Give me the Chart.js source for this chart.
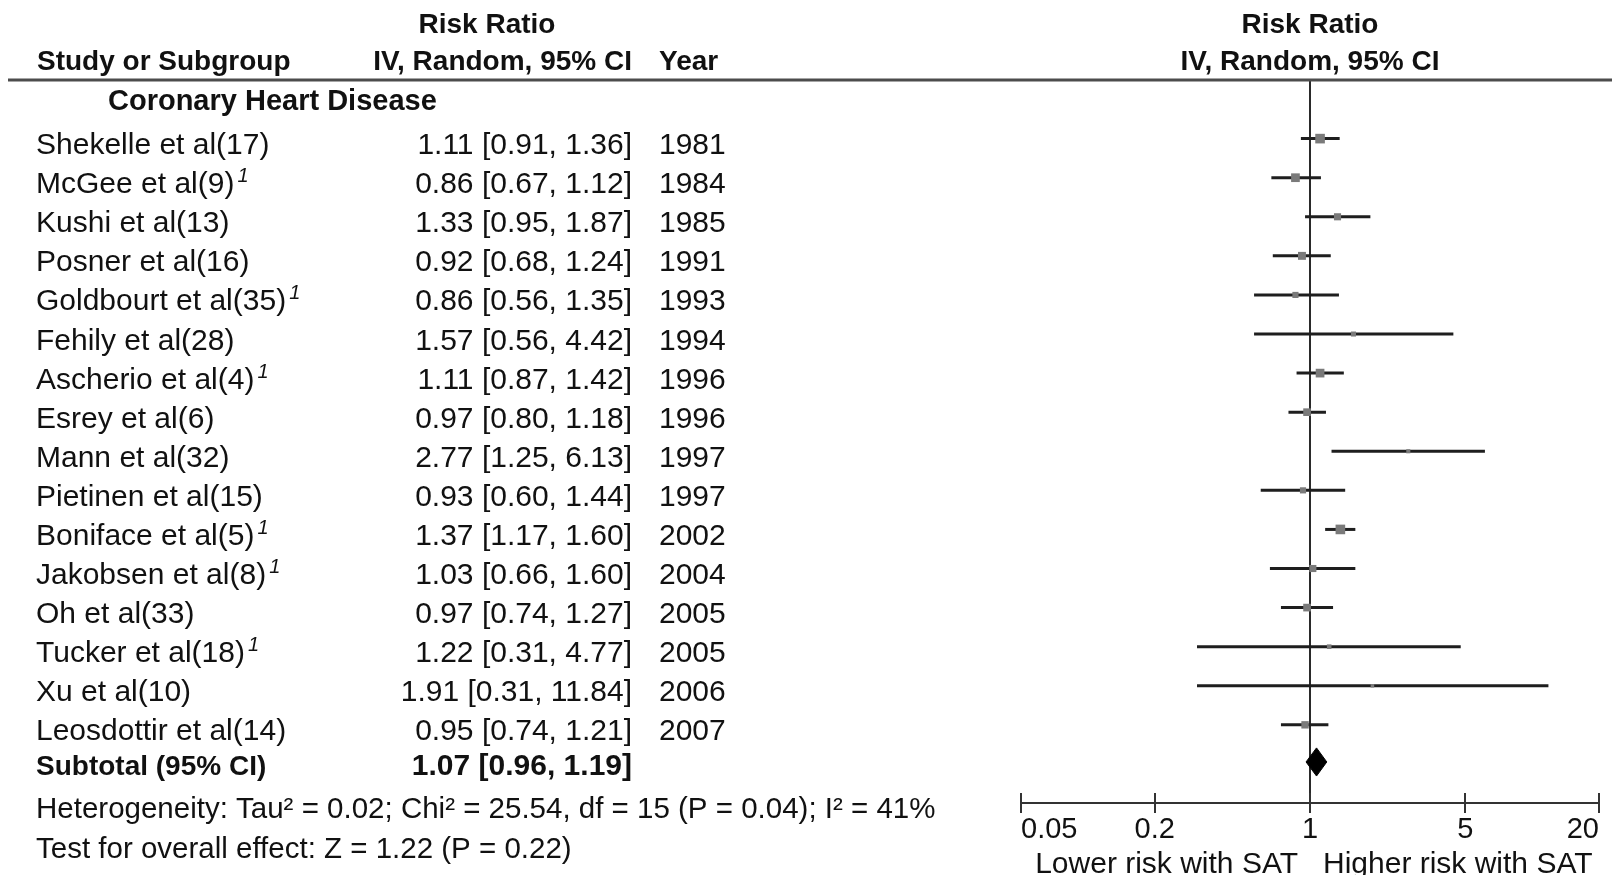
<!DOCTYPE html>
<html>
<head>
<meta charset="utf-8">
<title>Saturated fat and coronary heart disease – forest plot</title>
<script src="https://cdn.jsdelivr.net/npm/chart.js@4.4.1/dist/chart.umd.min.js"></script>
<style>
  html, body { margin: 0; padding: 0; background: #ffffff; }
  canvas { display: block; }
</style>
</head>
<body>
<canvas id="forest" width="1612" height="875"></canvas>
<script>
// ---- Study data -------------------------------------------------------
const studies = [
  'Shekelle et al(17)', 'McGee et al(9)', 'Kushi et al(13)', 'Posner et al(16)',
  'Goldbourt et al(35)', 'Fehily et al(28)', 'Ascherio et al(4)', 'Esrey et al(6)',
  'Mann et al(32)', 'Pietinen et al(15)', 'Boniface et al(5)', 'Jakobsen et al(8)',
  'Oh et al(33)', 'Tucker et al(18)', 'Xu et al(10)', 'Leosdottir et al(14)'
];
const footnote = [false, true, false, false, true, false, true, false,
                  false, false, true, true, false, true, false, false];
const riskRatio = [1.11, 0.86, 1.33, 0.92, 0.86, 1.57, 1.11, 0.97, 2.77, 0.93, 1.37, 1.03, 0.97, 1.22, 1.91, 0.95];
const ciLower   = [0.91, 0.67, 0.95, 0.68, 0.56, 0.56, 0.87, 0.80, 1.25, 0.60, 1.17, 0.66, 0.74, 0.31, 0.31, 0.74];
const ciUpper   = [1.36, 1.12, 1.87, 1.24, 1.35, 4.42, 1.42, 1.18, 6.13, 1.44, 1.60, 1.60, 1.27, 4.77, 11.84, 1.21];
const years     = [1981, 1984, 1985, 1991, 1993, 1994, 1996, 1996, 1997, 1997, 2002, 2004, 2005, 2005, 2006, 2007];
// approximate study weights (%), which set the box areas
const weights   = [11, 9, 6, 7.5, 4.5, 3, 9, 7, 2, 4.5, 11, 6, 7, 2.5, 1.5, 6.5];

// pooled random-effects estimate
const pooledRR = 1.07;
const pooledLower = 0.96;
const pooledUpper = 1.19;

const tickValues = [0.05, 0.2, 1, 5, 20];
const tickLabels = ['0.05', '0.2', '1', '5', '20'];

const subgroupTitle = 'Coronary Heart Disease';
const heterogeneityText = 'Heterogeneity: Tau\u00B2 = 0.02; Chi\u00B2 = 25.54, df = 15 (P = 0.04); I\u00B2 = 41%';
const overallEffectText = 'Test for overall effect: Z = 1.22 (P = 0.22)';
const favoursLeft = 'Lower risk with SAT';
const favoursRight = 'Higher risk with SAT';

// ---- Layout constants -------------------------------------------------
const Y_MIN = -0.5, Y_MAX = 18;        // row units, study k sits on row k
const SUBTOTAL_ROW = 16.95;
const DIAMOND_HALF = 0.36;             // half height of the pooled diamond, in rows
const FONT = '"Liberation Sans", Arial, Helvetica, sans-serif';
const INK = '#111111';
const LINE_INK = '#1e1e1e';

const fmt = v => v.toFixed(2);

// ---- Datasets ---------------------------------------------------------
const datasets = [];

// study boxes (area proportional to weight)
datasets.push({
  type: 'scatter',
  data: riskRatio.map((v, i) => ({ x: v, y: i + 1 })),
  pointStyle: 'rect',
  pointRadius: weights.map(w => 2.05 * Math.sqrt(w)),
  pointBackgroundColor: '#7a7a7a',
  pointBorderColor: '#7a7a7a',
  pointBorderWidth: 0,
  showLine: false,
  order: 0
});

// pooled diamond
datasets.push({
  type: 'line',
  data: [
    { x: pooledLower, y: SUBTOTAL_ROW },
    { x: pooledRR, y: SUBTOTAL_ROW - DIAMOND_HALF },
    { x: pooledUpper, y: SUBTOTAL_ROW },
    { x: pooledRR, y: SUBTOTAL_ROW + DIAMOND_HALF },
    { x: pooledLower, y: SUBTOTAL_ROW }
  ],
  borderColor: '#000000',
  backgroundColor: '#000000',
  borderWidth: 1,
  fill: 'shape',
  tension: 0,
  pointRadius: 0,
  order: 1
});

// confidence interval whiskers
studies.forEach((s, i) => {
  datasets.push({
    type: 'line',
    data: [{ x: ciLower[i], y: i + 1 }, { x: ciUpper[i], y: i + 1 }],
    borderColor: LINE_INK,
    borderWidth: 3,
    pointRadius: 0,
    tension: 0,
    fill: false,
    order: 2
  });
});

// line of no effect
datasets.push({
  type: 'line',
  data: [{ x: 1, y: Y_MIN }, { x: 1, y: Y_MAX }],
  borderColor: '#2a2a2a',
  borderWidth: 2,
  pointRadius: 0,
  fill: false,
  order: 3
});

// ---- Table text and axis furniture ------------------------------------
const forestTable = {
  id: 'forestTable',
  afterDraw(chart) {
    const ctx = chart.ctx;
    const xs = chart.scales.x;
    const ys = chart.scales.y;
    const x1 = xs.getPixelForValue(1);
    const axisY = chart.chartArea.bottom;
    const top = chart.chartArea.top;

    ctx.save();

    // rule under the column headings
    ctx.strokeStyle = '#4d4d4d';
    ctx.lineWidth = 3;
    ctx.beginPath();
    ctx.moveTo(8, top);
    ctx.lineTo(chart.width, top);
    ctx.stroke();

    // upper halves of the axis tick marks
    ctx.strokeStyle = '#333333';
    ctx.lineWidth = 2;
    xs.ticks.forEach(t => {
      const px = Math.round(xs.getPixelForValue(t.value));
      ctx.beginPath();
      ctx.moveTo(px, axisY - 10);
      ctx.lineTo(px, axisY);
      ctx.stroke();
    });

    ctx.fillStyle = INK;
    ctx.textBaseline = 'alphabetic';

    // column headings
    ctx.font = 'bold 28px ' + FONT;
    ctx.textAlign = 'center';
    ctx.fillText('Risk Ratio', 487, 33);
    ctx.fillText('Risk Ratio', x1, 33);
    ctx.fillText('IV, Random, 95% CI', x1, 70);
    ctx.textAlign = 'left';
    ctx.fillText('Study or Subgroup', 37, 70);
    ctx.fillText('Year', 659, 70);
    ctx.textAlign = 'right';
    ctx.fillText('IV, Random, 95% CI', 632, 70);

    // subgroup title
    ctx.textAlign = 'left';
    ctx.font = 'bold 29px ' + FONT;
    ctx.fillText(subgroupTitle, 108, 110);

    // study rows
    studies.forEach((name, i) => {
      const base = ys.getPixelForValue(i + 1) + 15.5;
      ctx.font = '30px ' + FONT;
      ctx.textAlign = 'left';
      ctx.fillText(name, 36, base);
      if (footnote[i]) {
        const w = ctx.measureText(name).width;
        ctx.font = 'italic 20px ' + FONT;
        ctx.fillText('1', 36 + w + 3, base - 11);
        ctx.font = '30px ' + FONT;
      }
      ctx.textAlign = 'right';
      ctx.fillText(`${fmt(riskRatio[i])} [${fmt(ciLower[i])}, ${fmt(ciUpper[i])}]`, 632, base);
      ctx.textAlign = 'left';
      ctx.fillText(String(years[i]), 659, base);
    });

    // subtotal row
    const subBase = ys.getPixelForValue(SUBTOTAL_ROW) + 13;
    ctx.font = 'bold 28px ' + FONT;
    ctx.textAlign = 'left';
    ctx.fillText('Subtotal (95% CI)', 36, subBase);
    ctx.font = 'bold 30px ' + FONT;
    ctx.textAlign = 'right';
    ctx.fillText(`${fmt(pooledRR)} [${fmt(pooledLower)}, ${fmt(pooledUpper)}]`, 632, subBase);

    // heterogeneity and overall effect
    ctx.font = '29.5px ' + FONT;
    ctx.textAlign = 'left';
    ctx.fillText(heterogeneityText, 36, 818);
    ctx.fillText(overallEffectText, 36, 858);

    // favours captions under the axis
    ctx.font = '30px ' + FONT;
    ctx.textAlign = 'right';
    ctx.fillText(favoursLeft, x1 - 12, 873);
    ctx.textAlign = 'left';
    ctx.fillText(favoursRight, x1 + 13, 873);

    ctx.restore();
  }
};

new Chart(document.getElementById('forest'), {
  type: 'scatter',
  data: { datasets },
  options: {
    responsive: false,
    animation: false,
    devicePixelRatio: 1,
    layout: { padding: { left: 1021, right: 13, top: 80, bottom: 0 } },
    plugins: {
      legend: { display: false },
      tooltip: { enabled: false }
    },
    scales: {
      x: {
        type: 'logarithmic',
        position: 'bottom',
        min: 0.05,
        max: 20,
        afterBuildTicks: scale => { scale.ticks = tickValues.map(v => ({ value: v })); },
        afterFit: scale => { scale.height = 72; },
        ticks: {
          autoSkip: false,
          maxRotation: 0,
          align: 'inner',
          padding: 0,
          color: INK,
          font: { family: FONT, size: 29 },
          callback: v => tickLabels[tickValues.indexOf(v)]
        },
        grid: {
          drawOnChartArea: false,
          drawTicks: true,
          tickLength: 10,
          color: '#333333',
          lineWidth: 2
        },
        border: { display: true, color: '#333333', width: 2 }
      },
      y: {
        type: 'linear',
        min: Y_MIN,
        max: Y_MAX,
        reverse: true,
        display: false
      }
    }
  },
  plugins: [forestTable]
});
</script>
</body>
</html>
